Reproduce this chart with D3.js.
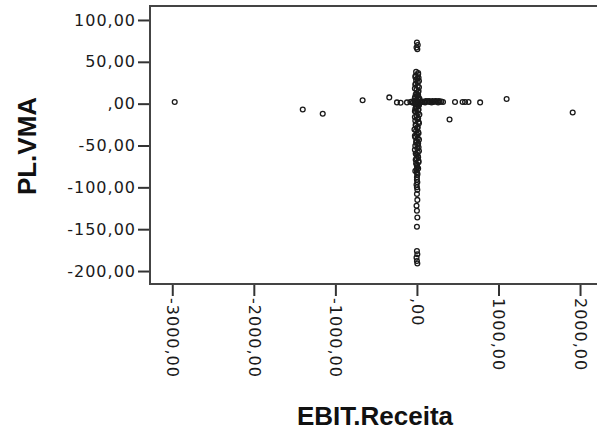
<!DOCTYPE html>
<html>
<head>
<meta charset="utf-8">
<script src="https://cdnjs.cloudflare.com/ajax/libs/d3/7.8.5/d3.min.js"></script>
<style>
	body { margin: 0; background: #fff; }
	.tickLabel { font-family: "DejaVu Sans", sans-serif; font-size: 16px; letter-spacing: 1px; fill: #1a1a1a; }
	.axisTitle { font-family: "Liberation Sans", Arial, sans-serif; font-size: 26px; font-weight: bold; fill: #111; }
</style>
</head>
<body>
<svg id="scatter"></svg>
<script>
// EBIT.Receita (x) and PL.VMA (y)
var ebit = [
	-2970, -1400, -1155, -666, -339, -245, -200, -122, -80, -50,
	60, 90, 125, 160, 200, 240, 280, 320, 400, 467, 560, 590, 632, 775, 1100, 1910,
	0, 10, -5, 5,
	-10, 15, -20, 5, 25, -15, 10, -25, 20, -5, 15, -20, 30, -10, 5, -25, 20, -15, 10, 25,
	-5, -20, 15, -10, 30, -25, 5, 20, -15, 10, -30, 15, 0, -20, 25, -10, 5, 20, -25, 10,
	-5, 15, -15, 20,
	0, 5, -5, 0, 5, 0,
	0, 5, -5, 0, 5
];
var plvma = [
	2, -7, -12, 4, 7.5, 1.5, 1, 1.5, 2, 1,
	2, 2, 2.5, 2, 2, 2.5, 2, 2, -19, 2, 2, 2, 2, 1.5, 5.5, -10.5,
	73, 70, 67, 65,
	38, 35, 32, 30, 27, 24, 21, 18, 15, 12, 10, 8, 6, 4, 3, 2, 1, 0, -1, -2,
	-4, -6, -8, -10, -13, -16, -19, -22, -25, -28, -31, -34, -37, -40, -43, -46, -49, -52, -55, -58,
	-61, -64, -67, -70,
	-73, -76, -79, -82, -85, -88,
	-91, -94, -97, -100, -103
];

// second column of the crowded strip round zero
var stripX = [
	15, -15, 20, -10, 10, -20, 25, -5, 15, -15, 5, -25, 20, -10, 10, -15, 25, -20, 5, 15,
	-10, 20, -25, 10, -5, 15, -20, 25, -15, 5, -10, 20, -25, 10, -5, 15, -20, 5, 25, -15,
	10, -5, 20, -10, 0, 15, -20, 5,
	-60, -30, 40, 70, 100, 140, 180, 220, 260, 300, 110, 150, 190, 230, 270
];
var stripY = [
	36.5, 33.5, 31, 28.5, 25.5, 22.5, 19.5, 16.5, 13.5, 11, 9, 7, 5, 3.5, 2.5, 1.5, 0.5, -0.5, -1.5, -3,
	-5, -7, -9, -11.5, -14.5, -17.5, -20.5, -23.5, -26.5, -29.5, -32.5, -35.5, -38.5, -41.5, -44.5, -47.5, -50.5, -53.5, -56.5, -59.5,
	-62.5, -65.5, -68.5, -71.5, -74.5, -77.5, -80.5, -83.5,
	2.5, 1.5, 1.5, 2.5, 1.5, 2.5, 1.5, 2.5, 1.5, 2.5, 3, 3, 3, 3, 3
];

var sparseX = [0, 5, -5, 0, 5, 0, 0, 5, -5, 0, 5];
var sparseY = [-108, -115, -122, -128, -136, -147, -176, -180, -184, -188, -191];

var xTicks = [-3000, -2000, -1000, 0, 1000, 2000];
var yTicks = [100, 50, 0, -50, -100, -150, -200];

var xTitle = "EBIT.Receita";
var yTitle = "PL.VMA";

function commaFormat(v) {
	if (v === 0) { return ",00"; }
	return v.toFixed(2).replace(".", ",");
}

var width = 597, height = 434;
var plot = { left: 150, top: 6, right: 600, bottom: 284 };

var svg = d3.select("#scatter")
	.attr("width", width)
	.attr("height", height);

var xScale = d3.scaleLinear().domain([-3273, 2208]).range([plot.left, 597]);
var yScale = d3.scaleLinear().domain([-215.5, 116.7]).range([plot.bottom, plot.top]);

// y axis
var yAxis = svg.append("g")
	.attr("transform", "translate(" + plot.left + ",0)")
	.call(d3.axisLeft(yScale).tickValues(yTicks).tickFormat(commaFormat).tickSize(12).tickPadding(2));
yAxis.select(".domain").remove();
yAxis.selectAll("line").attr("stroke", "#333").attr("stroke-width", 2);
yAxis.selectAll("text").attr("class", "tickLabel").attr("font-size", null).attr("font-family", null);

// x axis, labels turned to read downwards
var xAxis = svg.append("g")
	.attr("transform", "translate(0," + plot.bottom + ")")
	.call(d3.axisBottom(xScale).tickValues(xTicks).tickFormat(commaFormat).tickSize(12));
xAxis.select(".domain").remove();
xAxis.selectAll("line").attr("stroke", "#333").attr("stroke-width", 2);
xAxis.selectAll("text")
	.attr("class", "tickLabel")
	.attr("font-size", null).attr("font-family", null)
	.attr("text-anchor", "start")
	.attr("transform", "rotate(90)")
	.attr("x", 14)
	.attr("y", 0)
	.attr("dy", "0.35em");

// frame
svg.append("rect")
	.attr("x", plot.left)
	.attr("y", plot.top)
	.attr("width", plot.right - plot.left)
	.attr("height", plot.bottom - plot.top)
	.attr("fill", "none")
	.attr("stroke", "#444")
	.attr("stroke-width", 2);

// points
var points = ebit.map(function(d, i) { return [d, plvma[i]]; })
	.concat(stripX.map(function(d, i) { return [d, stripY[i]]; }))
	.concat(sparseX.map(function(d, i) { return [d, sparseY[i]]; }));

svg.append("g").selectAll("circle")
	.data(points)
	.enter()
	.append("circle")
	.attr("cx", function(d) { return xScale(d[0]); })
	.attr("cy", function(d) { return yScale(d[1]); })
	.attr("r", 2.4)
	.attr("fill", "none")
	.attr("stroke", "#1a1a1a")
	.attr("stroke-width", 1.3);

// titles
svg.append("text")
	.attr("class", "axisTitle")
	.attr("x", 375)
	.attr("y", 425)
	.attr("text-anchor", "middle")
	.text(xTitle);

svg.append("text")
	.attr("class", "axisTitle")
	.attr("transform", "translate(36,146) rotate(-90)")
	.attr("text-anchor", "middle")
	.text(yTitle);
</script>
</body>
</html>
